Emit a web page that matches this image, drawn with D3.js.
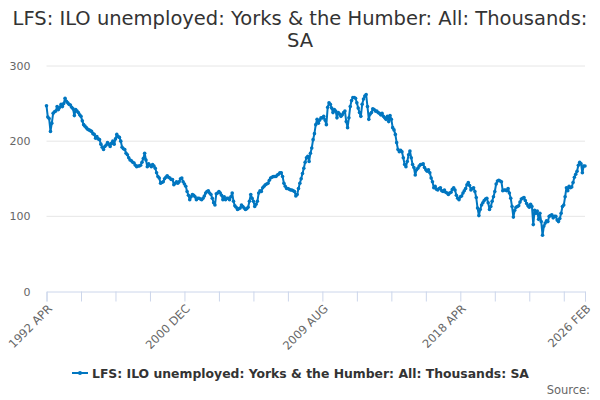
<!DOCTYPE html>
<html>
<head>
<meta charset="utf-8">
<script src="https://cdn.jsdelivr.net/npm/d3@7"></script>
<style>
  body { margin: 0; background: #fff; }
  text { font-family: "DejaVu Sans", sans-serif; }
</style>
</head>
<body>
<div id="chart-area"></div>
<script>
var title = ["LFS: ILO unemployed: Yorks & the Humber: All: Thousands:", "SA"];
var seriesName = "LFS: ILO unemployed: Yorks & the Humber: All: Thousands: SA";
var monthNames = ["JAN", "FEB", "MAR", "APR", "MAY", "JUN", "JUL", "AUG", "SEP", "OCT", "NOV", "DEC"];
var tickLabels = ["1992 APR", "2000 DEC", "2009 AUG", "2018 APR", "2026 FEB"];
var yTicks = [0, 100, 200, 300];

// monthly values, thousands, from 1992 APR
var values = [
  247, 232, 230, 213, 224, 237, 239, 240, 246, 242, 245, 249,
  246, 250, 257, 253, 251, 249, 248, 245, 243, 234, 242, 240,
  238, 235, 233, 227, 222, 220, 218, 216, 215, 214, 213, 210,
  209, 204, 206, 203, 202, 196, 192, 189, 193, 195, 198, 196,
  193, 197, 200, 196, 203, 209, 206, 205, 200, 192, 190, 189,
  184, 182, 178, 175, 174, 172, 171, 168, 166, 167, 167, 168,
  172, 177, 184, 175, 166, 170, 168, 166, 169, 167, 164, 158,
  153, 151, 144, 145, 146, 150, 152, 154, 152, 151, 149, 149,
  142, 144, 146, 144, 146, 150, 151, 146, 143, 140, 133, 128,
  122, 126, 129, 128, 126, 122, 124, 124, 123, 122, 124, 127,
  131, 133, 134, 131, 129, 124, 118, 115, 130, 131, 133, 131,
  128, 122, 126, 122, 124, 124, 122, 126, 131, 120, 114, 112,
  109, 110, 111, 115, 113, 111, 109, 110, 112, 120, 129, 124,
  120, 113, 116, 120, 131, 134, 133, 138, 140, 142, 143, 144,
  148, 151, 152, 153, 153, 153, 155, 156, 158, 158, 153, 144,
  140, 137, 137, 136, 135, 135, 134, 133, 127, 129, 137, 144,
  150, 157, 164, 172, 178, 180, 173, 184, 191, 202, 210, 222,
  229, 224, 228, 231, 231, 233, 228, 222, 245, 251, 249, 244,
  238, 242, 240, 231, 238, 236, 233, 235, 238, 240, 226, 218,
  231, 246, 254, 258, 258, 257, 251, 244, 238, 233, 249, 256,
  260, 262, 246, 229, 236, 238, 243, 242, 240, 240, 238, 237,
  235, 237, 233, 231, 229, 233, 226, 234, 229, 218, 215, 209,
  198, 189, 186, 188, 186, 178, 169, 166, 173, 182, 187, 178,
  169, 165, 155, 162, 164, 167, 169, 169, 170, 165, 162, 160,
  162, 158, 151, 146, 138, 140, 136, 135, 137, 138, 134, 133,
  135, 132, 131, 129, 131, 132, 136, 138, 135, 128, 124, 122,
  126, 127, 131, 134, 137, 142, 145, 141, 135, 137, 138, 133,
  125, 111, 101, 109, 115, 118, 121, 123, 124, 118, 109, 113,
  120, 126, 133, 143, 147, 148, 147, 146, 134, 135, 135, 134,
  137, 131, 124, 113, 99, 108, 112, 113, 114, 119, 123, 124,
  125, 121, 117, 114, 112, 116, 113, 89, 108, 104, 107, 96,
  104, 93, 75, 87, 91, 94, 93, 100, 101, 102, 98, 100,
  100, 95, 93, 97, 104, 113, 115, 126, 138, 134, 140, 138,
  139, 145, 152, 156, 160, 168, 172, 170, 158, 167, 167
];

var categories = values.map(function(v, i) {
  var m = 3 + i;
  return (1992 + Math.floor(m / 12)) + " " + monthNames[m % 12];
});
var data = values.map(function(v, i) { return { month: categories[i], value: v }; });

var W = 600, H = 400;
var margin = { top: 66, right: 15, bottom: 108.5, left: 46.5 };
var width = W - margin.left - margin.right;
var height = H - margin.top - margin.bottom;

var svg = d3.select("#chart-area")
    .append("svg")
    .attr("width", W)
    .attr("height", H);

svg.append("g").selectAll("text")
    .data(title)
    .enter().append("text")
    .attr("x", W / 2)
    .attr("y", function(d, i) { return 25 + i * 22; })
    .attr("text-anchor", "middle")
    .attr("fill", "#333")
    .style("font-size", "19.5px")
    .text(function(d) { return d; });

var g = svg.append("g")
    .attr("transform", "translate(" + margin.left + "," + margin.top + ")");

var x = d3.scalePoint().domain(categories).range([0, width]);
var y = d3.scaleLinear().domain([0, 300]).range([height, 0]);

// grid
g.append("g").selectAll("line")
    .data(yTicks.filter(function(d) { return d > 0; }))
    .enter().append("line")
    .attr("x1", 0).attr("x2", width)
    .attr("y1", function(d) { return y(d); })
    .attr("y2", function(d) { return y(d); })
    .attr("stroke", "#e6e6e6");

var yAxis = g.append("g")
    .call(d3.axisLeft(y).tickValues(yTicks).tickSize(0).tickPadding(16));
yAxis.select(".domain").remove();
yAxis.selectAll("text").attr("fill", "#666").style("font-size", "11px");

var xTickVals = categories.filter(function(c, i) { return i % 26 === 0 || i === categories.length - 1; });
var xAxis = g.append("g")
    .attr("transform", "translate(0," + height + ")")
    .call(d3.axisBottom(x).tickValues(xTickVals).tickSize(10)
        .tickFormat(function(d) { return tickLabels.indexOf(d) >= 0 ? d : ""; }));
xAxis.select(".domain").attr("stroke", "#ccd6eb");
xAxis.selectAll(".tick line").attr("stroke", "#ccd6eb");
xAxis.selectAll("text")
    .attr("fill", "#666")
    .style("font-size", "11.5px")
    .attr("text-anchor", "end")
    .attr("x", 0).attr("y", 0).attr("dy", "0.35em")
    .attr("transform", "translate(3,15) rotate(-45)");

var line = d3.line()
    .x(function(d) { return x(d.month); })
    .y(function(d) { return y(d.value); });

g.append("path")
    .datum(data)
    .attr("fill", "none")
    .attr("stroke", "#0076c0")
    .attr("stroke-width", 2)
    .attr("stroke-linejoin", "round")
    .attr("d", line);

g.append("g").selectAll("circle")
    .data(data)
    .enter().append("circle")
    .attr("cx", function(d) { return x(d.month); })
    .attr("cy", function(d) { return y(d.value); })
    .attr("r", 1.8)
    .attr("fill", "#0076c0");

// legend
var legend = svg.append("g").attr("transform", "translate(72,373)");
legend.append("line")
    .attr("x1", 0).attr("x2", 16)
    .attr("stroke", "#0076c0").attr("stroke-width", 2);
legend.append("circle").attr("cx", 8).attr("r", 2).attr("fill", "#0076c0");
legend.append("text")
    .attr("x", 20).attr("y", 4.5)
    .attr("fill", "#333")
    .style("font-size", "12.4px")
    .style("font-weight", "bold")
    .text(seriesName);

svg.append("text")
    .attr("x", 590).attr("y", 394)
    .attr("text-anchor", "end")
    .attr("fill", "#666")
    .style("font-size", "11.5px")
    .text("Source:");
</script>
</body>
</html>
